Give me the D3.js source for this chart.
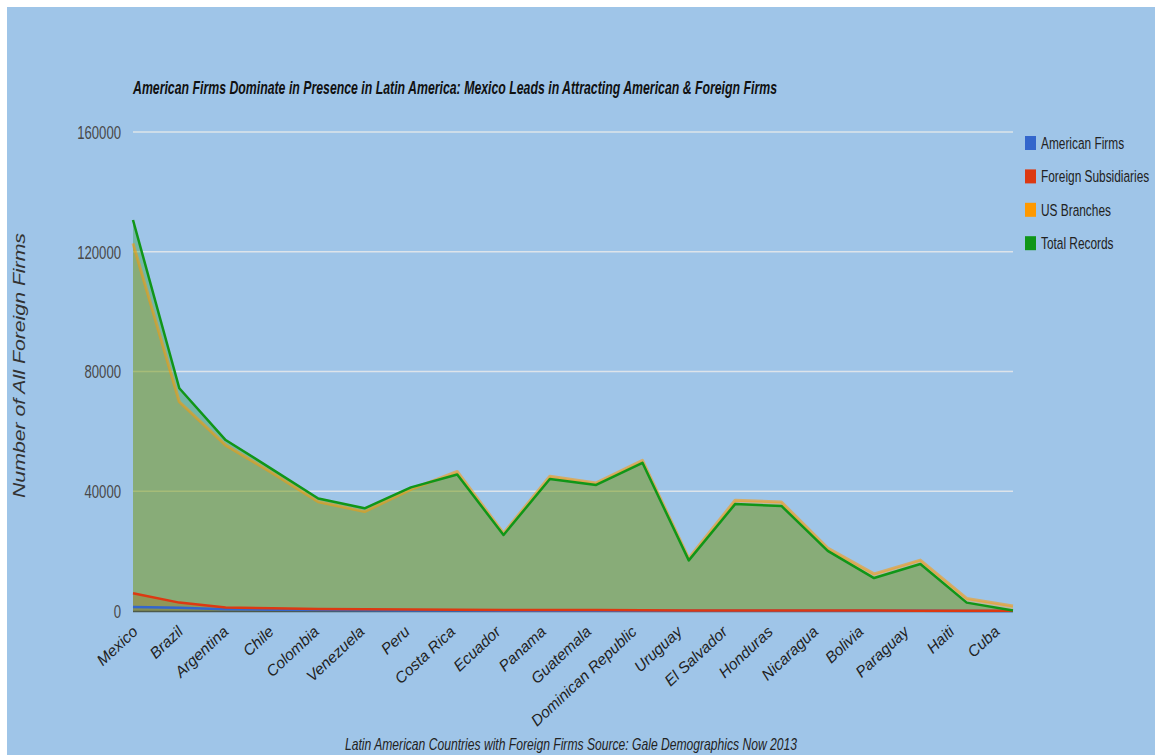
<!DOCTYPE html>
<html>
<head>
<meta charset="utf-8">
<script src="https://cdn.jsdelivr.net/npm/d3@7"></script>
<style>
  html, body { margin: 0; padding: 0; background: #ffffff; }
  svg { display: block; }
  text { font-family: "Liberation Sans", Arial, sans-serif; }
</style>
</head>
<body>
<svg id="chart" width="1155" height="755"></svg>
<script>
const countries = ["Mexico","Brazil","Argentina","Chile","Colombia","Venezuela","Peru","Costa Rica","Ecuador","Panama","Guatemala","Dominican Republic","Uruguay","El Salvador","Honduras","Nicaragua","Bolivia","Paraguay","Haiti","Cuba"];
const americanFirms = [1300, 1100, 600, 400, 300, 250, 200, 150, 120, 120, 100, 100, 80, 80, 80, 60, 60, 50, 30, 20];
const foreignSubsidiaries = [5900, 2800, 1200, 900, 700, 600, 500, 400, 350, 300, 300, 250, 200, 200, 200, 150, 150, 120, 100, 80];
const usBranches = [122800, 69900, 55400, 46200, 36500, 33200, 40600, 46600, 26000, 45000, 42800, 50300, 17600, 37000, 36400, 21000, 12400, 17000, 4200, 1700];
const totalRecords = [130600, 74400, 57100, 47400, 37600, 34300, 41300, 45600, 25400, 44100, 42100, 49500, 16900, 35700, 35100, 20100, 11000, 15700, 2800, 150];
const seriesNames = ["American Firms", "Foreign Subsidiaries", "US Branches", "Total Records"];
const seriesColors = ["#3366cc", "#dc3912", "#ff9900", "#109618"];
const yTicks = [0, 40000, 80000, 120000, 160000];
const titleText = "American Firms Dominate in Presence in Latin America: Mexico Leads in Attracting American & Foreign Firms";
const xTitleText = "Latin American Countries with Foreign Firms Source: Gale Demographics Now 2013";
const yTitleText = "Number of All Foreign Firms";

const series = [americanFirms, foreignSubsidiaries, usBranches, totalRecords];

const svg = d3.select("#chart");
const W = 1155, H = 755;
const plot = { left: 133, right: 1013, top: 132, bottom: 611 };

svg.append("rect").attr("x", 7).attr("y", 7).attr("width", W - 7).attr("height", H - 7).attr("fill", "#9fc5e8");

const x = d3.scalePoint().domain(countries).range([plot.left, plot.right]);
const xLab = d3.scalePoint().domain(countries).range([135, 997]);
const y = d3.scaleLinear().domain([0, 160000]).range([plot.bottom, plot.top]);

// gridlines
svg.append("g").selectAll("line").data(yTicks.filter(d => d > 0)).join("line")
  .attr("x1", plot.left).attr("x2", plot.right)
  .attr("y1", d => y(d)).attr("y2", d => y(d))
  .attr("stroke", "#dde4ea").attr("stroke-width", 1.5);

// y tick labels
svg.append("g").selectAll("text").data(yTicks).join("text")
  .attr("x", 121).attr("y", d => y(d)).attr("dy", "0.36em")
  .attr("text-anchor", "end").attr("font-size", 19).attr("fill", "#484848")
  .attr("textLength", d => String(d).length * 7.3).attr("lengthAdjust", "spacingAndGlyphs")
  .text(d => d);

// areas
const area = d3.area().x((d, i) => x(countries[i])).y0(y(0)).y1(d => y(d));
const line = d3.line().x((d, i) => x(countries[i])).y(d => y(d));
const gA = svg.append("g");
series.forEach((s, k) => {
  gA.append("path").datum(s).attr("d", area).attr("fill", seriesColors[k]).attr("fill-opacity", 0.3);
});
// baseline
gA.append("line").attr("x1", plot.left).attr("x2", plot.right)
  .attr("y1", y(0) + 0.5).attr("y2", y(0) + 0.5).attr("stroke", "#4d5a4a").attr("stroke-width", 1.5);
// lines
const lineOpacity = [1, 1, 0.55, 1];
const lineWidth = [2.5, 2.5, 3, 2.5];
series.forEach((s, k) => {
  gA.append("path").datum(s).attr("d", line).attr("fill", "none")
    .attr("stroke", seriesColors[k]).attr("stroke-opacity", lineOpacity[k])
    .attr("stroke-width", lineWidth[k]).attr("stroke-linejoin", "round");
});

// x labels
svg.append("g").selectAll("text").data(countries).join("text")
  .attr("transform", d => `translate(${xLab(d)},${629}) rotate(-43)`)
  .attr("text-anchor", "end").attr("dy", "0.35em")
  .attr("font-size", 15.5).attr("font-style", "italic").attr("fill", "#222")
  .text(d => d);

// title
svg.append("text").attr("x", 133).attr("y", 94)
  .attr("font-size", 18.5).attr("font-weight", "bold").attr("font-style", "italic").attr("fill", "#111")
  .attr("textLength", 644).attr("lengthAdjust", "spacingAndGlyphs")
  .text(titleText);

// x title
svg.append("text").attr("x", 345).attr("y", 750)
  .attr("font-size", 16.5).attr("font-style", "italic").attr("fill", "#222")
  .attr("textLength", 452).attr("lengthAdjust", "spacingAndGlyphs")
  .text(xTitleText);

// y title
svg.append("text").attr("transform", `translate(25,${498}) rotate(-90)`)
  .attr("font-size", 16).attr("font-style", "italic").attr("fill", "#333")
  .attr("textLength", 265).attr("lengthAdjust", "spacingAndGlyphs")
  .text(yTitleText);

// legend
const lg = svg.append("g").selectAll("g").data(seriesNames).join("g")
  .attr("transform", (d, i) => `translate(1025,${143 + i * 33.4})`);
lg.append("rect").attr("x", 0).attr("y", -7).attr("width", 11).attr("height", 14)
  .attr("fill", (d, i) => seriesColors[i]);
lg.append("text").attr("transform", "translate(16,0) scale(0.72,1)").attr("dy", "0.36em")
  .attr("font-size", 16.5).attr("fill", "#222").text(d => d);
</script>
</body>
</html>
